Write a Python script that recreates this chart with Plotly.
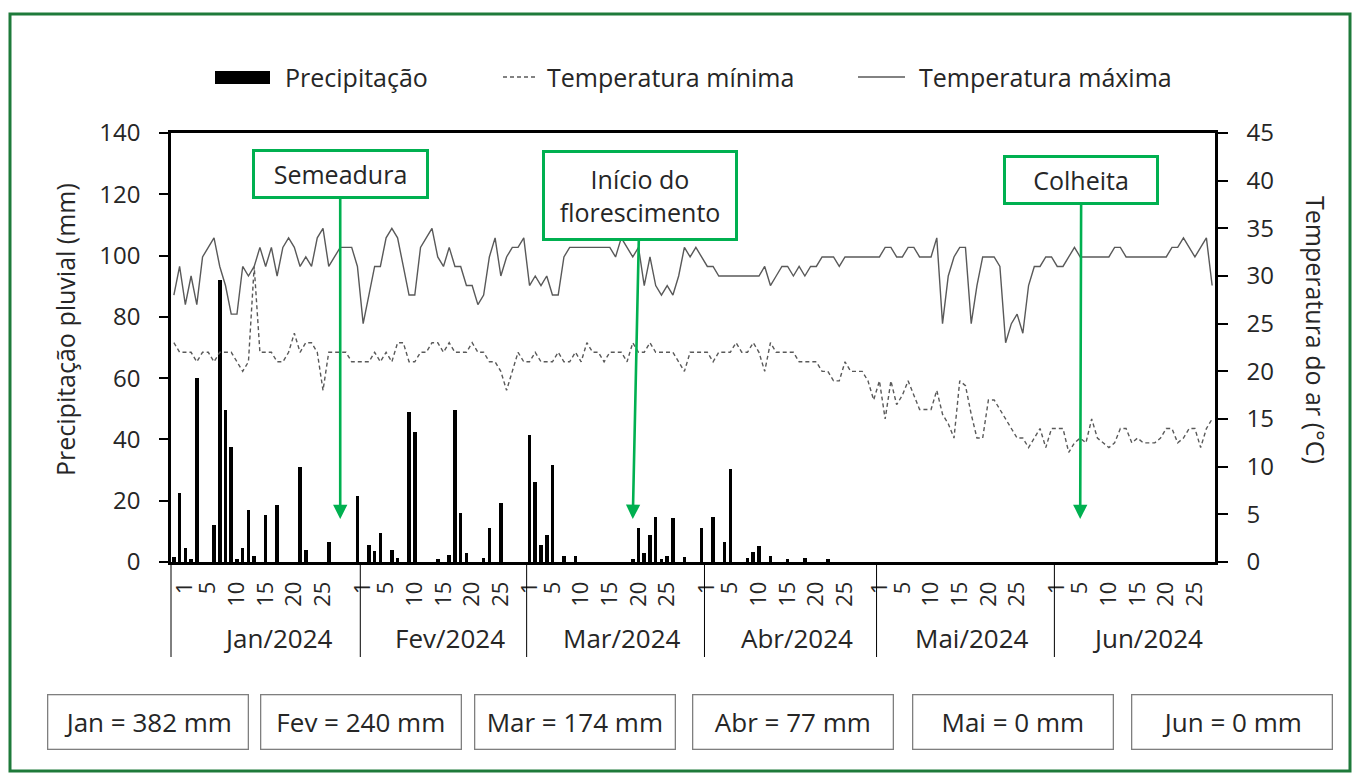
import pandas as pd
import plotly.graph_objects as go

# ---------------- data ----------------
months = ["Jan/2024", "Fev/2024", "Mar/2024", "Abr/2024", "Mai/2024", "Jun/2024"]
month_days = [31, 29, 31, 30, 31, 30]
dates = pd.date_range("2024-01-01", "2024-06-30", freq="D")

precip_jan = [1.5, 22.5, 4.5, 1.0, 60.0, 0, 0, 12.0, 92.0, 49.5, 37.5, 1.0, 4.5, 17.0, 2.0, 0,
              15.5, 0, 18.5, 0, 0, 0, 31.0, 4.0, 0, 0, 0, 6.5, 0, 0, 0]
precip_feb = [0, 21.6, 0, 5.5, 3.5, 9.6, 0, 3.8, 1.3, 0, 49.0, 42.5, 0, 0, 0, 1.1, 0, 2.4, 49.5,
              16.1, 3.1, 0, 0, 1.4, 11.1, 0, 19.4, 0, 0]
precip_mar = [0, 0, 41.5, 26.0, 5.7, 8.7, 31.5, 0, 2.0, 0, 2.0, 0, 0, 0, 0, 0, 0, 0, 0, 0,
              1.1, 11.1, 3.1, 8.7, 14.7, 1.1, 2.0, 14.2, 0, 1.6, 0]
precip_abr = [0, 11.1, 0, 14.7, 0, 6.4, 30.3, 0, 0, 1.4, 3.2, 5.2, 0, 2.0, 0, 0, 1.1, 0, 0, 1.3,
              0, 0, 0, 0.9, 0, 0, 0, 0, 0, 0]
precip_mai = [0] * 31
precip_jun = [0] * 30

tmin_jan = [23, 22, 22, 22, 21, 22, 22, 21, 22, 22, 22, 21, 20, 21, 31, 22, 22, 22, 21, 21, 22, 24,
            22, 23, 23, 22, 18, 22, 22, 22, 22]
tmin_feb = [21, 21, 21, 21, 22, 21, 22, 21, 23, 23, 21, 21, 22, 22, 23, 23, 22, 23, 22, 22, 22, 23,
            22, 22, 21, 21, 20, 18, 20]
tmin_mar = [22, 21, 21, 22, 21, 21, 21, 22, 21, 21, 22, 21, 23, 22, 22, 21, 22, 22, 22, 21, 23, 22,
            22, 23, 22, 22, 22, 22, 21, 20, 22]
tmin_abr = [22, 22, 22, 21, 22, 22, 22, 23, 22, 22, 23, 22, 20, 23, 22, 22, 22, 22, 21, 21, 21, 21,
            20, 20, 19, 19, 21, 20, 20, 20]
tmin_mai = [19, 17, 19, 15, 19, 16.5, 17.5, 19, 17.5, 16, 16, 16, 18, 15.5, 14.5, 13, 19, 18.5, 15.5,
            13, 13, 17, 17, 16, 15, 14, 13, 13, 12, 13, 14]
tmin_jun = [12, 14, 14, 14, 11.5, 12.5, 13, 12.5, 15, 13, 12.5, 12, 12.5, 14, 14, 12.5, 13, 12.5,
            12.5, 12.5, 13, 14, 14, 12.5, 13, 14, 14, 12, 14, 15]

tmax_jan = [28, 31, 27, 30, 27, 32, 33, 34, 31, 29, 26, 26, 31, 30, 31, 33, 31, 33, 30, 33, 34, 33,
            31, 32, 31, 34, 35, 31, 32, 33, 33]
tmax_feb = [33, 31, 25, 28, 31, 31, 34, 35, 34, 31, 28, 28, 33, 34, 35, 32, 31, 33, 31, 31, 29, 29,
            27, 28, 32, 34, 30, 32, 33]
tmax_mar = [33, 34, 29, 30, 29, 30, 28, 28, 32, 33, 33, 33, 33, 33, 33, 33, 33, 32, 34, 33, 32, 33,
            29, 32, 29, 28, 29, 28, 30, 33, 32]
tmax_abr = [33, 32, 31, 31, 30, 30, 30, 30, 30, 30, 30, 30, 31, 29, 30, 31, 31, 30, 31, 30, 31, 31,
            32, 32, 32, 31, 32, 32, 32, 32]
tmax_mai = [32, 32, 32, 33, 33, 32, 32, 33, 33, 32, 32, 32, 34, 25, 30, 32, 33, 33, 25, 29, 32, 32,
            32, 31, 23, 25, 26, 24, 29, 31, 31]
tmax_jun = [32, 32, 31, 31, 32, 33, 32, 32, 32, 32, 32, 32, 33, 33, 32, 32, 32, 32, 32, 32, 32, 32,
            33, 33, 34, 33, 32, 33, 34, 29]

precip = precip_jan + precip_feb + precip_mar + precip_abr + precip_mai + precip_jun
tmin = tmin_jan + tmin_feb + tmin_mar + tmin_abr + tmin_mai + tmin_jun
tmax = tmax_jan + tmax_feb + tmax_mar + tmax_abr + tmax_mai + tmax_jun

day_ticks = [1, 5, 10, 15, 20, 25]
monthly_totals = ["Jan = 382 mm", "Fev = 240 mm", "Mar = 174 mm",
                  "Abr = 77 mm", "Mai = 0 mm", "Jun = 0 mm"]
event_labels = ["Semeadura", "Início do<br>florescimento", "Colheita"]
event_dates = ["2024-01-30", "2024-03-21", "2024-06-07"]

# ---------------- layout helpers ----------------
W, H = 1358, 774
L, R, T, B = 171, 143, 133, 212
PW, PH = W - L - R, H - T - B
FONT = "Open Sans"
TXT = "#262626"
GREEN = "#00b050"
LINEC = "#595959"


def px_x(px):
    return (px - L) / PW


def px_y(py):
    return (H - B - py) / PH


day = pd.Timedelta(days=1)
x_start = dates[0] - day / 2
x_end = dates[-1] + day / 2
n_days = (x_end - x_start) / day


def frac(ts):
    return ((ts - x_start) / day) / n_days


label_shift = 2 * day  # day labels of the reference sit ~2 days to the right
month_starts = [pd.Timestamp(2024, m, 1) for m in range(1, 7)]

tickvals, ticktext = [], []
for ms, nd in zip(month_starts, month_days):
    for d in day_ticks:
        if d <= nd:
            tickvals.append(ms + (d - 1) * day + label_shift)
            ticktext.append(str(d))

fig = go.Figure()
fig.add_trace(go.Bar(x=dates, y=precip, name="Precipitação", marker=dict(color="black", line=dict(width=0)),
                     width=0.62 * 86400000, showlegend=False))
fig.add_trace(go.Scatter(x=dates, y=tmin, name="Temperatura mínima", mode="lines", yaxis="y2",
                         line=dict(color=LINEC, width=1.4, dash="4px,3px"), showlegend=False))
fig.add_trace(go.Scatter(x=dates, y=tmax, name="Temperatura máxima", mode="lines", yaxis="y2",
                         line=dict(color=LINEC, width=1.4), showlegend=False))

shapes = []
annotations = []

# month dividers and month names under the day labels
div_bottom = px_y(657)
shapes.append(dict(type="line", xref="paper", yref="paper", x0=0, x1=0, y0=0, y1=div_bottom,
                   line=dict(color="black", width=1)))
for ms in month_starts[1:]:
    xf = frac(ms - day / 2 + label_shift)
    shapes.append(dict(type="line", xref="paper", yref="paper", x0=xf, x1=xf, y0=0, y1=div_bottom,
                       line=dict(color="black", width=1)))
for ms, nd, name in zip(month_starts, month_days, months):
    annotations.append(dict(x=ms + (nd / 2 + 2.7) * day, y=px_y(638), xref="x", yref="paper",
                            text=name, showarrow=False, xanchor="center", yanchor="middle",
                            font=dict(family=FONT, size=26, color=TXT)))

# event boxes with arrows
event_offsets = [(0, -345), (7, -324), (1, -339)]
event_sizes = [(167, 40), (186, 81), (146, 40)]
for lab, dt, (ax, ay), (bw, bh) in zip(event_labels, event_dates, event_offsets, event_sizes):
    annotations.append(dict(x=dt, y=px_y(519), xref="x", yref="paper", text=lab,
                            showarrow=True, ax=ax, ay=ay, axref="pixel", ayref="pixel",
                            arrowhead=2, arrowsize=1.1, arrowwidth=2.6, arrowcolor=GREEN,
                            bordercolor=GREEN, borderwidth=3, borderpad=2, bgcolor="white",
                            width=bw, height=bh, align="center",
                            font=dict(family=FONT, size=25, color=TXT)))

# monthly totals boxes
box_centers = [148, 361, 574.5, 793, 1012.5, 1232]
for cx, txt in zip(box_centers, monthly_totals):
    annotations.append(dict(x=px_x(cx), y=px_y(722), xref="paper", yref="paper", text=txt,
                            showarrow=False, xanchor="center", yanchor="middle",
                            width=195, height=49, borderpad=2, borderwidth=1.3,
                            bordercolor="#7f7f7f", bgcolor="white",
                            font=dict(family=FONT, size=26, color=TXT)))

# axis titles
annotations.append(dict(x=px_x(65), y=px_y(330), xref="paper", yref="paper",
                        xanchor="center", yanchor="middle",
                        text="Precipitação pluvial (mm)", textangle=-90, showarrow=False,
                        font=dict(family=FONT, size=25, color=TXT)))
annotations.append(dict(x=px_x(1316), y=px_y(330), xref="paper", yref="paper",
                        xanchor="center", yanchor="middle",
                        text="Temperatura do ar (°C)", textangle=90, showarrow=False,
                        font=dict(family=FONT, size=25, color=TXT)))

# legend (drawn)
leg_y = px_y(77)
shapes.append(dict(type="rect", xref="paper", yref="paper", x0=px_x(215), x1=px_x(270),
                   y0=px_y(84), y1=px_y(71), fillcolor="black", line=dict(width=0)))
shapes.append(dict(type="line", xref="paper", yref="paper", x0=px_x(503), x1=px_x(537),
                   y0=leg_y, y1=leg_y, line=dict(color=LINEC, width=1.4, dash="4px,3px")))
shapes.append(dict(type="line", xref="paper", yref="paper", x0=px_x(858), x1=px_x(905),
                   y0=leg_y, y1=leg_y, line=dict(color=LINEC, width=1.4)))
for lx, txt in [(283, "Precipitação"), (545, "Temperatura mínima"), (917, "Temperatura máxima")]:
    annotations.append(dict(x=px_x(lx), y=leg_y, xref="paper", yref="paper", text=txt,
                            showarrow=False, xanchor="left", yanchor="middle",
                            font=dict(family=FONT, size=25, color=TXT)))

# outer green frame
shapes.append(dict(type="rect", xref="paper", yref="paper", x0=px_x(10), x1=px_x(1350),
                   y0=px_y(771), y1=px_y(14), line=dict(color="#1e7a3a", width=3),
                   fillcolor="rgba(0,0,0,0)", layer="below"))

fig.update_layout(
    width=W, height=H,
    margin=dict(l=L, r=R, t=T, b=B),
    paper_bgcolor="white", plot_bgcolor="white",
    bargap=0,
    font=dict(family=FONT, color=TXT),
    xaxis=dict(type="date", range=[x_start, x_end], tickmode="array", tickvals=tickvals,
               ticktext=ticktext, tickangle=-90, ticks="", showgrid=False, zeroline=False,
               showline=True, mirror=True, linecolor="black", linewidth=2.5,
               ticklabelstandoff=8, tickfont=dict(family=FONT, size=22, color=TXT)),
    yaxis=dict(range=[0, 140], dtick=20, ticks="outside", ticklen=9, tickwidth=1.5,
               tickcolor="black", showgrid=False, zeroline=False, showline=True,
               linecolor="black", linewidth=2.5, ticklabelstandoff=14,
               tickfont=dict(family=FONT, size=24, color=TXT)),
    yaxis2=dict(range=[0, 45], dtick=5, overlaying="y", side="right", ticks="outside",
                ticklen=10, tickwidth=1.5, tickcolor="black", showgrid=False, zeroline=False,
                showline=True, linecolor="black", linewidth=2.5, ticklabelstandoff=14,
                tickfont=dict(family=FONT, size=24, color=TXT)),
    shapes=shapes,
    annotations=annotations,
    showlegend=False,
)

fig.write_html("out.html")
